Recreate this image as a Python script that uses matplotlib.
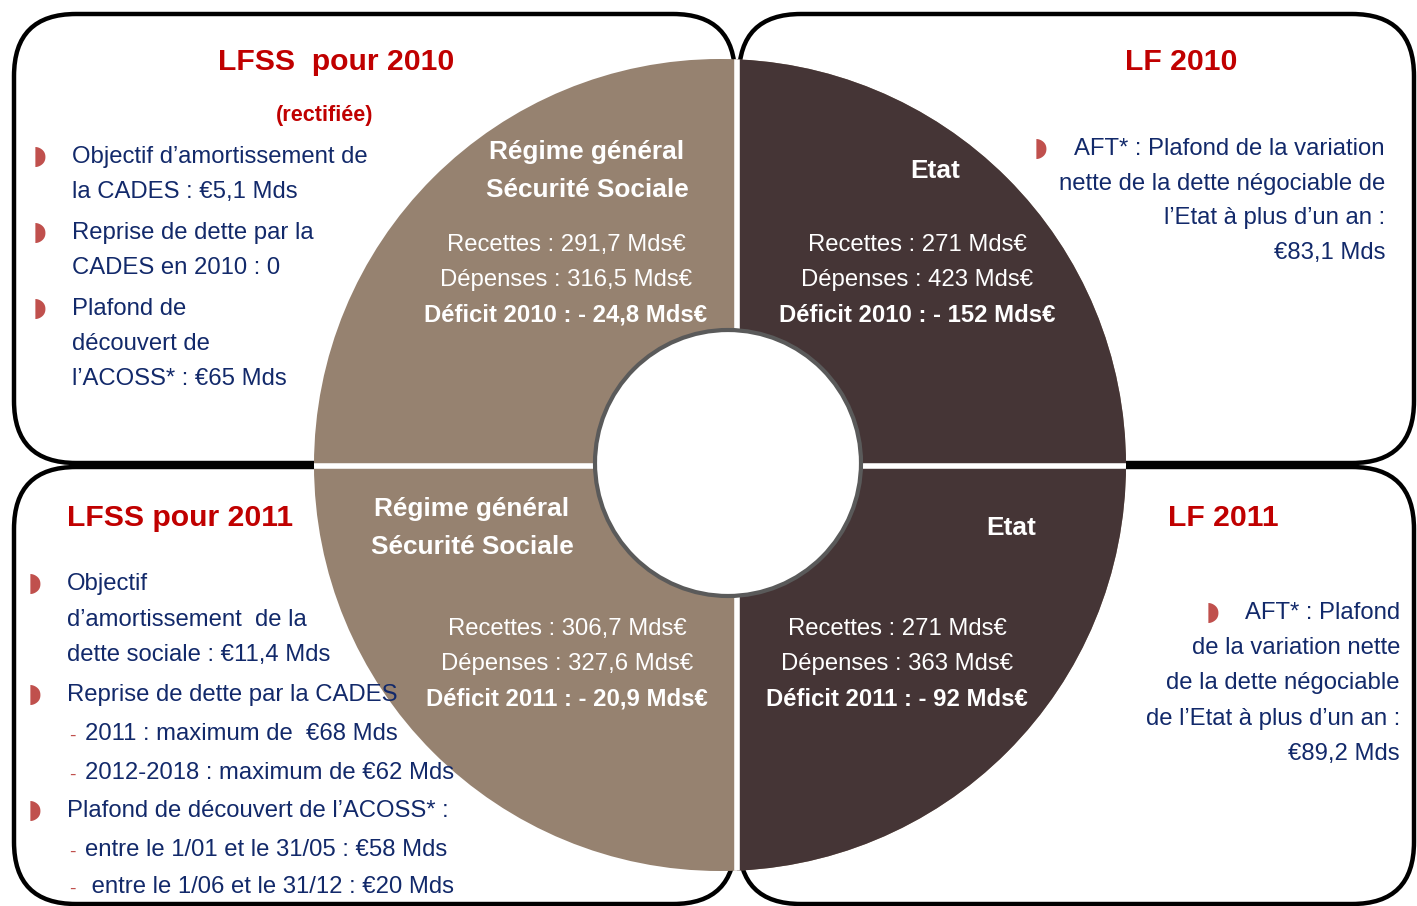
import matplotlib
matplotlib.use("Agg")
import matplotlib.pyplot as plt
from matplotlib import font_manager
from matplotlib.patches import FancyBboxPatch, Circle, Rectangle

# --- data -------------------------------------------------------------
years = [2010, 2011]
sectors = ["Régime général\nSécurité Sociale", "Etat"]
recettes = {2010: [291.7, 271], 2011: [306.7, 271]}
depenses = {2010: [316.5, 423], 2011: [327.6, 363]}
deficits = {2010: [24.8, 152], 2011: [20.9, 92]}

box_titles = ["LFSS  pour 2010", "LF 2010", "LFSS pour 2011", "LF 2011"]
lfss2010_items = [
    ["Objectif d\u2019amortissement de", "la CADES : \u20ac5,1 Mds"],
    ["Reprise de dette par la", "CADES en 2010 : 0"],
    ["Plafond de", "découvert de", "l\u2019ACOSS* : \u20ac65 Mds"],
]
lf2010_items = ["AFT* : Plafond de la variation",
                "nette de la dette négociable de",
                "l\u2019Etat à plus d\u2019un an :",
                "\u20ac83,1 Mds"]
lfss2011_items = [
    ("bullet", "Objectif"),
    ("", "d\u2019amortissement  de la"),
    ("", "dette sociale : \u20ac11,4 Mds"),
    ("bullet", "Reprise de dette par la CADES"),
    ("dash", "2011 : maximum de  \u20ac68 Mds"),
    ("dash", "2012-2018 : maximum de \u20ac62 Mds"),
    ("bullet", "Plafond de découvert de l\u2019ACOSS* :"),
    ("dash", "entre le 1/01 et le 31/05 : \u20ac58 Mds"),
    ("dash", " entre le 1/06 et le 31/12 : \u20ac20 Mds"),
]
lf2011_items = ["AFT* : Plafond",
                "de la variation nette",
                "de la dette négociable",
                "de l\u2019Etat à plus d\u2019un an :",
                "\u20ac89,2 Mds"]

# --- style ------------------------------------------------------------
names = {f.name for f in font_manager.fontManager.ttflist}
narrow = "Liberation Sans Narrow" in names
plt.rcParams["font.family"] = ["Liberation Sans Narrow" if narrow else "Liberation Sans",
                               "DejaVu Sans"]
k = 1.0 if narrow else 0.82   # shrink a normal-width face to the narrow widths

TAN = "#968270"
DARK = "#453536"
RED = "#c00000"
NAVY = "#12296a"
BUL = "#c0504d"
BODY = 21 * k
TITLE = 26.5 * k
LABEL = 23 * k
DY = 2  # small baseline nudge


def fr(v):
    return f"{v:g}".replace(".", ",")


fig = plt.figure(figsize=(14.17, 9.06), dpi=100)
ax = fig.add_axes([0, 0, 1, 1])
ax.set_xlim(0, 1417)
ax.set_ylim(906, 0)
ax.axis("off")

# rounded boxes
for x0, y0, x1, y1 in [(14, 14, 735, 463), (739, 14, 1414, 463),
                       (14, 467, 735, 904), (739, 467, 1414, 904)]:
    ax.add_patch(FancyBboxPatch((x0, y0), x1 - x0, y1 - y0,
                                boxstyle="round,pad=0,rounding_size=62",
                                fc="white", ec="black", lw=3.2, zorder=1))

# donut: left half tan, right half dark, split lines in white
cx, cy, R = 720, 465, 406
ax.add_patch(Circle((cx, cy), R, fc=TAN, ec="none", zorder=2))
dark = Circle((cx, cy), R, fc=DARK, ec="none", zorder=3)
ax.add_patch(dark)
dark.set_clip_path(Rectangle((737, 0), 700, 906, transform=ax.transData))
outer = Circle((cx, cy), R, transform=ax.transData)
vl, = ax.plot([737, 737], [40, 890], color="white", lw=4, zorder=4)
hl, = ax.plot([300, 1140], [465.5, 465.5], color="white", lw=4, zorder=4)
vl.set_clip_path(outer)
hl.set_clip_path(outer)
ax.add_patch(Circle((728, 463), 133, fc="white", ec="#5a5a5a", lw=3, zorder=5))

# quadrant texts
label_pos = {(2010, 0): [(587, 150), (587, 188)], (2010, 1): [(935, 169)],
             (2011, 0): [(472, 507), (472, 545)], (2011, 1): [(1011, 526)]}
value_pos = {(2010, 0): (566, 243), (2010, 1): (917, 243),
             (2011, 0): (567, 627), (2011, 1): (897, 627)}
for year in years:
    for i, name in enumerate(sectors):
        for (x, y), line in zip(label_pos[(year, i)], name.split("\n")):
            ax.text(x, y + DY, line, color="white", fontsize=LABEL, fontweight="bold",
                    ha="center", va="center", zorder=6)
        x, y = value_pos[(year, i)]
        y += DY
        ax.text(x, y, f"Recettes : {fr(recettes[year][i])} Mds\u20ac",
                color="white", fontsize=BODY, ha="center", va="center", zorder=6)
        ax.text(x, y + 35, f"Dépenses : {fr(depenses[year][i])} Mds\u20ac",
                color="white", fontsize=BODY, ha="center", va="center", zorder=6)
        ax.text(x, y + 70, f"Déficit {year} : - {fr(deficits[year][i])} Mds\u20ac",
                color="white", fontsize=BODY, fontweight="bold",
                ha="center", va="center", zorder=6)


def bullet(x, y):
    ax.text(x, y, "\u25d7", color=BUL, fontsize=19, family="DejaVu Sans",
            ha="center", va="center", zorder=6)


# top-left box
ax.text(336, 60 + DY, box_titles[0], color=RED, fontsize=TITLE, fontweight="bold",
        ha="center", va="center", zorder=6)
ax.text(325, 114 + DY, "(rectifiée)", color=RED, fontsize=19 * k, fontweight="bold",
        ha="center", va="center", zorder=6)
y = 155
for para in lfss2010_items:
    bullet(40, y + 2)
    for line in para:
        ax.text(72, y + DY, line, color=NAVY, fontsize=BODY, ha="left", va="center", zorder=6)
        y += 35
    y += 6

# top-right box
ax.text(1181, 60 + DY, box_titles[1], color=RED, fontsize=TITLE, fontweight="bold",
        ha="center", va="center", zorder=6)
bullet(1041, 149)
for j, line in enumerate(lf2010_items):
    ax.text(1385, 147 + DY + 34.7 * j, line, color=NAVY, fontsize=BODY,
            ha="right", va="center", zorder=6)

# bottom-left box
ax.text(67, 516 + DY, box_titles[2], color=RED, fontsize=TITLE, fontweight="bold",
        ha="left", va="center", zorder=6)
ys = [582, 618, 653, 693, 732, 771, 809, 848, 885]
for (kind, line), y in zip(lfss2011_items, ys):
    x = 67
    if kind == "bullet":
        bullet(35, y + 2)
    elif kind == "dash":
        ax.text(72, y + 4, "-", color=BUL, fontsize=14, ha="center", va="center", zorder=6)
        x = 85
    ax.text(x, y + DY, line, color=NAVY, fontsize=BODY, ha="left", va="center", zorder=6)

# bottom-right box
ax.text(1223, 516 + DY, box_titles[3], color=RED, fontsize=TITLE, fontweight="bold",
        ha="center", va="center", zorder=6)
bullet(1213, 613)
for j, line in enumerate(lf2011_items):
    ax.text(1400, 611 + DY + 35.2 * j, line, color=NAVY, fontsize=BODY,
            ha="right", va="center", zorder=6)

fig.savefig("out.png", dpi=100)
